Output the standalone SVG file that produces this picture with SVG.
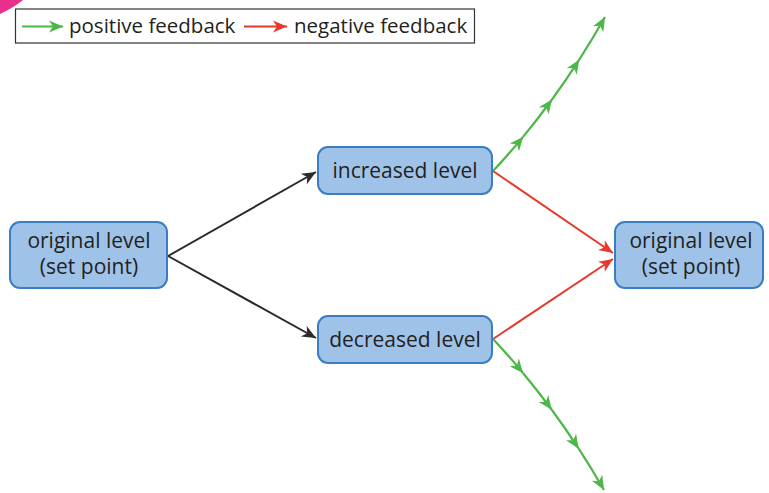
<svg xmlns="http://www.w3.org/2000/svg" width="769" height="493" viewBox="0 0 769 493">
<style>
.box{fill:#9fc3e8;stroke:#3a7dc2;stroke-width:2}
.t{font-family:"Open Sans","Liberation Sans",sans-serif;font-size:21px;fill:#231f20;text-anchor:middle}
.lt{font-family:"Open Sans","Liberation Sans",sans-serif;font-size:20.5px;fill:#231f20}
.k{fill:none;stroke:#2a2a2a;stroke-width:2}
.r{fill:none;stroke:#e8372b;stroke-width:2}
.g{fill:none;stroke:#4db74a;stroke-width:2.2}
</style>
<defs>
<marker id="ak" markerUnits="userSpaceOnUse" viewBox="-15 -8 17 16" refX="0" refY="0" markerWidth="17" markerHeight="16" orient="auto"><path d="M0,0 L-14,-6 L-10,0 L-14,6 Z" fill="#2a2a2a"/></marker>
<marker id="ar" markerUnits="userSpaceOnUse" viewBox="-15 -8 17 16" refX="0" refY="0" markerWidth="17" markerHeight="16" orient="auto"><path d="M0,0 L-14,-6 L-10,0 L-14,6 Z" fill="#e8372b"/></marker>
<marker id="ag" markerUnits="userSpaceOnUse" viewBox="-15 -8 17 16" refX="0" refY="0" markerWidth="17" markerHeight="16" orient="auto"><path d="M0,0 L-14,-6 L-10,0 L-14,6 Z" fill="#4db74a"/></marker>
</defs>
<rect width="769" height="493" fill="#ffffff"/>
<path d="M0,0 L23,0 Q13,8 0,14 Z" fill="#e8308a"/>
<g id="legend">
<rect x="15.5" y="9" width="459" height="34" fill="#ffffff" stroke="#333333" stroke-width="1.2"/>
<path class="g" d="M22,26.5 L63,26.5" marker-end="url(#ag)"/>
<text class="lt" x="69" y="33">positive feedback</text>
<path class="r" d="M244,26.5 L287,26.5" marker-end="url(#ar)"/>
<text class="lt" x="294" y="33">negative feedback</text>
</g>
<g id="connectors">
<path class="k" d="M168,256 L316,172" marker-end="url(#ak)"/>
<path class="k" d="M168,256 L316,338" marker-end="url(#ak)"/>
<path class="r" d="M493,171 L613,253" marker-end="url(#ar)"/>
<path class="r" d="M493,339 L613,259" marker-end="url(#ar)"/>
<path class="g" d="M493,171 Q508.5,154.5 523.25,136.63" marker-end="url(#ag)"/>
<path class="g" d="M523.25,136.63 Q538,118.75 552,99.5" marker-end="url(#ag)"/>
<path class="g" d="M552,99.5 Q566,80.25 579.25,59.63" marker-end="url(#ag)"/>
<path class="g" d="M579.25,59.63 Q592.5,39 605,17" marker-end="url(#ag)"/>
<path class="g" d="M493,339 Q508.5,355.5 523.19,373.19" marker-end="url(#ag)"/>
<path class="g" d="M523.19,373.19 Q537.88,390.88 551.75,409.75" marker-end="url(#ag)"/>
<path class="g" d="M551.75,409.75 Q565.63,428.63 578.69,448.69" marker-end="url(#ag)"/>
<path class="g" d="M578.69,448.69 Q591.75,468.75 604,490" marker-end="url(#ag)"/>
</g>
<g id="orig-left">
<rect class="box" x="10" y="222" width="157" height="66" rx="10"/>
<text class="t" x="89" y="248">original level</text>
<text class="t" x="89" y="274">(set point)</text>
</g>
<g id="increased">
<rect class="box" x="318" y="147" width="174" height="47" rx="10"/>
<text class="t" x="405" y="178">increased level</text>
</g>
<g id="decreased">
<rect class="box" x="318" y="316" width="174" height="47" rx="10"/>
<text class="t" x="405" y="347">decreased level</text>
</g>
<g id="orig-right">
<rect class="box" x="615" y="222" width="148" height="66" rx="10"/>
<text class="t" x="691" y="248">original level</text>
<text class="t" x="691" y="274">(set point)</text>
</g>
</svg>
